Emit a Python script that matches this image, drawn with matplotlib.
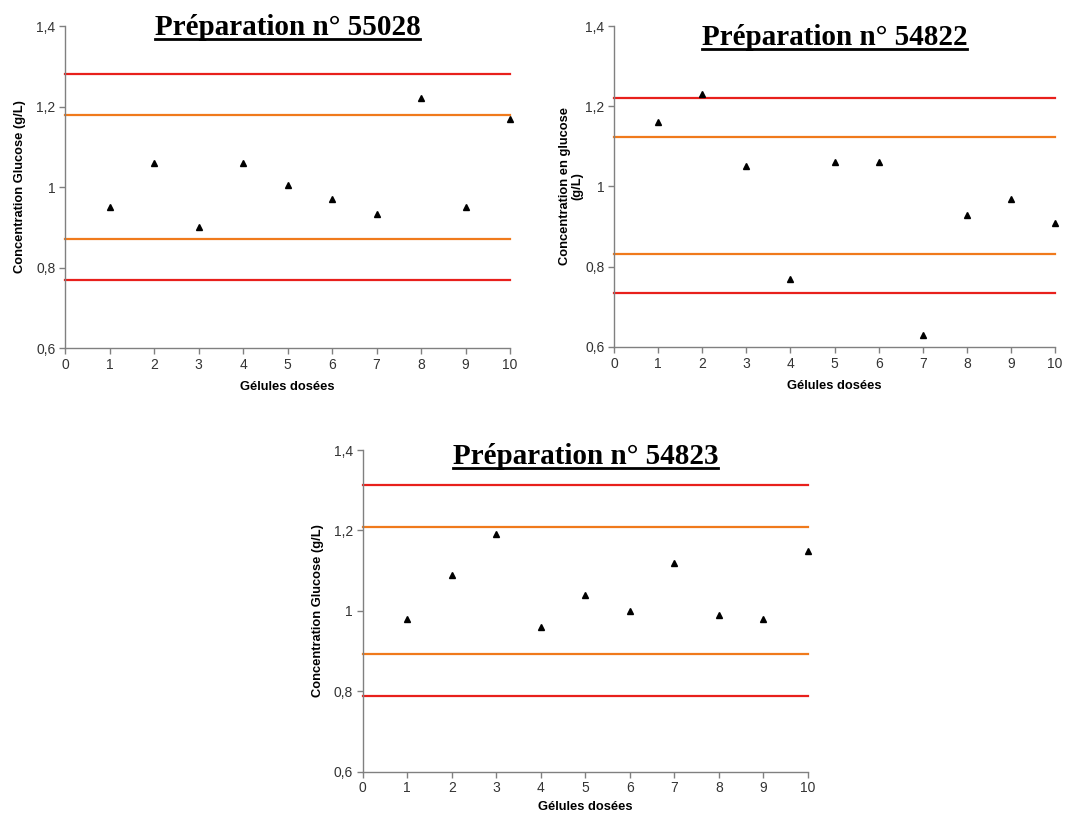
import matplotlib
matplotlib.use("Agg")
import matplotlib.pyplot as plt
from matplotlib.lines import Line2D
from matplotlib.ticker import FuncFormatter

plt.rcParams['font.family'] = ['Liberation Sans', 'DejaVu Sans']

# Data
gelules = [1, 2, 3, 4, 5, 6, 7, 8, 9, 10]

prep_55028 = [0.95, 1.06, 0.90, 1.06, 1.005, 0.97, 0.933, 1.222, 0.95, 1.168]
prep_54822 = [1.16, 1.23, 1.05, 0.77, 1.06, 1.06, 0.63, 0.93, 0.97, 0.91]
prep_54823 = [0.98, 1.09, 1.19, 0.96, 1.04, 1.00, 1.12, 0.99, 0.98, 1.15]

# limits: red = +/-25 %, orange = +/-15 % of the mean
limits_55028 = [0.768, 0.870, 1.178, 1.280]
limits_54822 = [0.734, 0.831, 1.124, 1.221]
limits_54823 = [0.7875, 0.8925, 1.2075, 1.3125]

titles = ["Préparation n° 55028", "Préparation n° 54822", "Préparation n° 54823"]
ylabels = ["Concentration Glucose (g/L)",
           "Concentration en glucose\n(g/L)",
           "Concentration Glucose (g/L)"]
xlabel = "Gélules dosées"

RED = "#e8201c"
ORANGE = "#f07a1c"


def fr_fmt(v, pos):
    s = "%.1f" % v
    if s.endswith(".0"):
        s = s[:-2]
    return s.replace(".", ",")


def draw_panel(fig, rect, values, limits, title, ylabel, title_y, ypad, xpad):
    ax = fig.add_axes(rect)
    x0, x1 = 0, 10
    lo_red, lo_or, hi_or, hi_red = limits
    for y, c in [(hi_red, RED), (hi_or, ORANGE), (lo_or, ORANGE), (lo_red, RED)]:
        ax.plot([x0, x1], [y, y], color=c, lw=1.6, clip_on=False, zorder=2)
    ax.plot(gelules, values, linestyle="none", marker="^", color="black",
            markersize=5, clip_on=False, zorder=3)

    ax.set_xlim(0, 10)
    ax.set_ylim(0.6, 1.4)
    ax.set_xticks(range(0, 11))
    ax.set_yticks([0.6, 0.8, 1.0, 1.2, 1.4])
    ax.yaxis.set_major_formatter(FuncFormatter(fr_fmt))

    for s in ["top", "right"]:
        ax.spines[s].set_visible(False)
    for s in ["left", "bottom"]:
        ax.spines[s].set_color("#808080")
        ax.spines[s].set_linewidth(1.0)
    ax.tick_params(direction="out", length=4, width=1, color="#808080",
                   labelsize=10, labelcolor="#333333", pad=3)

    ax.set_xlabel(xlabel, fontsize=9.3, fontweight="bold", labelpad=xpad)
    ax.set_ylabel(ylabel, fontsize=9.3, fontweight="bold", labelpad=ypad,
                  linespacing=1.1)

    # title in serif bold, underlined
    cx = rect[0] + rect[2] / 2
    t = fig.text(cx, title_y, title, ha="center", va="top", fontsize=21,
                 fontweight="bold", family="Liberation Serif")
    return ax, t


fig = plt.figure(figsize=(10.84, 8.16), dpi=100)

panels = [
    ([0.060, 0.5735, 0.4105, 0.3946], prep_55028, limits_55028, 0.983, 7, 7),
    ([0.5664, 0.5748, 0.4069, 0.3933], prep_54822, limits_54822, 0.971, 1, 7),
    ([0.3346, 0.0543, 0.4108, 0.3942], prep_54823, limits_54823, 0.457, 7, 4),
]

texts = []
for i, (rect, vals, lims, ty, ypad, xpad) in enumerate(panels):
    ax, t = draw_panel(fig, rect, vals, lims, titles[i], ylabels[i], ty,
                       ypad, xpad)
    texts.append(t)

# underline the titles
fig.canvas.draw()
r = fig.canvas.get_renderer()
inv = fig.transFigure.inverted()
for t in texts:
    bb = t.get_window_extent(renderer=r)
    (xa, ya), (xb, yb) = inv.transform([[bb.x0, bb.y0], [bb.x1, bb.y1]])
    fig.add_artist(Line2D([xa, xb], [ya + 0.002, ya + 0.002], color="black",
                          lw=2, transform=fig.transFigure))

fig.savefig("out.png", dpi=100)
